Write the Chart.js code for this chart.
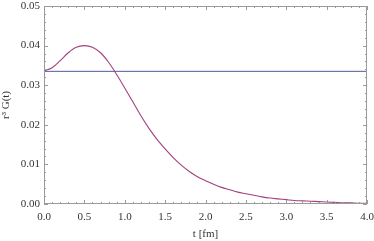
<!DOCTYPE html>
<html>
<head>
<meta charset="utf-8">
<script src="https://cdn.jsdelivr.net/npm/chart.js@4/dist/chart.umd.min.js"></script>
<style>
  html, body { margin: 0; padding: 0; background: #fff; }
  #wrap { width: 374px; height: 241px; }
</style>
</head>
<body>
<div id="wrap"><canvas id="c"></canvas></div>
<script>
// values
let tValues = [0.0, 0.1, 0.2, 0.3, 0.4, 0.5, 0.6, 0.7, 0.8, 0.9,
               1.0, 1.1, 1.2, 1.3, 1.4, 1.5, 1.6, 1.7, 1.8, 1.9,
               2.0, 2.1, 2.2, 2.3, 2.4, 2.5, 2.6, 2.7, 2.8, 2.9,
               3.0, 3.1, 3.2, 3.3, 3.4, 3.5, 3.6, 3.7, 3.8, 3.9, 4.0]
let gValues = [0.0336, 0.0344, 0.0362, 0.0382, 0.0396, 0.0400, 0.0396, 0.0382, 0.0358, 0.0327,
               0.0293, 0.0258, 0.0223, 0.0191, 0.0163, 0.0139, 0.0117, 0.0098, 0.0082, 0.0069,
               0.0059, 0.0050, 0.0042, 0.0036, 0.0030, 0.0026, 0.0022, 0.0018, 0.0015, 0.0013,
               0.0011, 0.0009, 0.0008, 0.0007, 0.0006, 0.0005, 0.0004, 0.0003, 0.0003, 0.0002, 0.0002]
let flatLevel = 0.0335
let xRange = [0, 4]
let yRange = [0, 0.05]

let curve = tValues.map(function(t, k){ return {x: t, y: gValues[k]} })
let flat = xRange.map(function(t){ return {x: t, y: flatLevel} })

const serif = '"Liberation Serif", "DejaVu Serif", serif'

// Mathematica-style frame with inward ticks on all four sides
const frameTicks = {
    id: 'frameTicks',
    afterDraw(chart) {
        const ctx = chart.ctx
        const a = chart.chartArea
        const xs = chart.scales.x, ys = chart.scales.y
        ctx.save()
        ctx.strokeStyle = '#9a9a9a'
        ctx.lineWidth = 1
        ctx.strokeRect(a.left + 0.5, a.top + 0.5, a.right - a.left - 1, a.bottom - a.top - 1)
        ctx.beginPath()
        for (let k = 0; k <= 40; k++) {
            let v = xRange[0] + k * 0.1
            let px = Math.round(xs.getPixelForValue(v)) + 0.5
            let len = (k % 5 === 0) ? 4 : 2
            ctx.moveTo(px, a.bottom); ctx.lineTo(px, a.bottom - len)
            ctx.moveTo(px, a.top); ctx.lineTo(px, a.top + len)
        }
        for (let k = 0; k <= 25; k++) {
            let v = yRange[0] + k * 0.002
            let py = Math.round(ys.getPixelForValue(v)) + 0.5
            let len = (k % 5 === 0) ? 4 : 2
            ctx.moveTo(a.left, py); ctx.lineTo(a.left + len, py)
            ctx.moveTo(a.right, py); ctx.lineTo(a.right - len, py)
        }
        ctx.stroke()
        ctx.restore()
    }
}

new Chart(document.getElementById('c'), {
    type: 'scatter',
    data: {
        datasets: [
            {
                data: flat,
                showLine: true,
                borderColor: '#545a98',
                borderWidth: 1,
                pointRadius: 0
            },
            {
                data: curve,
                showLine: true,
                borderColor: '#a3417f',
                borderWidth: 1.1,
                pointRadius: 0,
                cubicInterpolationMode: 'monotone'
            }
        ]
    },
    options: {
        responsive: true,
        maintainAspectRatio: false,
        animation: false,
        layout: { padding: { top: 6, right: 7, left: 0, bottom: 0 } },
        plugins: { legend: { display: false }, tooltip: { enabled: false } },
        scales: {
            x: {
                type: 'linear',
                min: xRange[0], max: xRange[1],
                grid: { display: false, drawTicks: false },
                border: { display: false },
                ticks: {
                    stepSize: 0.5,
                    padding: 7,
                    color: '#333',
                    font: { family: serif, size: 11 },
                    callback: function(v){ return v.toFixed(1) }
                },
                title: {
                    display: true,
                    text: 't [fm]',
                    color: '#333',
                    font: { family: serif, size: 11 },
                    padding: { top: 2, bottom: 0 }
                },
                afterFit: function(s){
                    s.height = 37
                    s.paddingLeft = 0
                    s.paddingRight = 0
                }
            },
            y: {
                min: yRange[0], max: yRange[1],
                grid: { display: false, drawTicks: false },
                border: { display: false },
                ticks: {
                    stepSize: 0.01,
                    padding: 4,
                    color: '#333',
                    font: { family: serif, size: 11 },
                    callback: function(v){ return v.toFixed(2) }
                },
                title: {
                    display: true,
                    text: 'r³ G(t)',
                    color: '#333',
                    font: { family: serif, size: 11 },
                    padding: { top: 0, bottom: 2 }
                },
                afterFit: function(s){
                    s.width = 44
                    s.paddingTop = 0
                    s.paddingBottom = 0
                }
            }
        }
    },
    plugins: [frameTicks]
})
</script>
</body>
</html>
